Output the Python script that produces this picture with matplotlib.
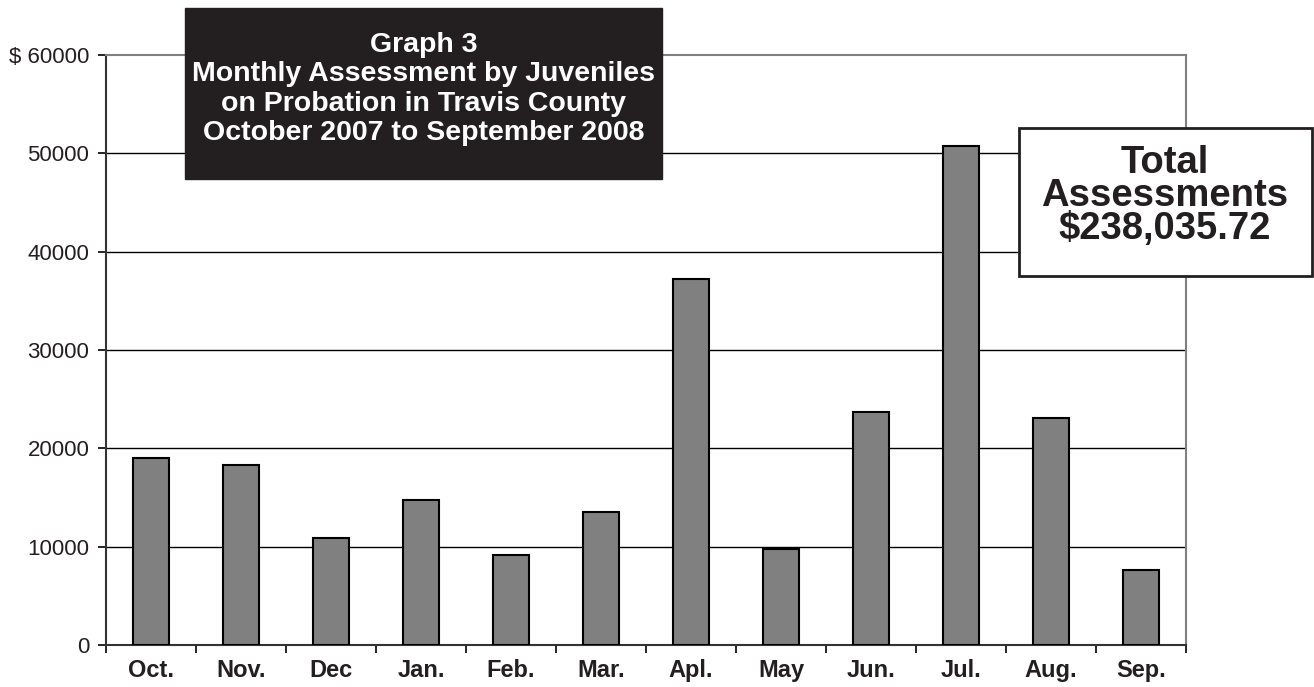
import matplotlib.pyplot as plt
import matplotlib.patches as patches

months = ["Oct.", "Nov.", "Dec", "Jan.", "Feb.", "Mar.", "Apl.", "May", "Jun.", "Jul.", "Aug.", "Sep."]
assessments = [19020, 18300, 10880, 14750, 9150, 13530, 37230, 9770, 23700, 50760, 23090, 7630]
yticks = [0, 10000, 20000, 30000, 40000, 50000, 60000]
ytick_labels = ["0", "10000", "20000", "30000", "40000", "50000", "$ 60000"]

plt.rcParams["font.family"] = ["Liberation Sans", "DejaVu Sans"]

fig = plt.figure(figsize=(13.14, 6.87), dpi=100)
ax = fig.add_axes([106 / 1314, 1 - 645 / 687, 1080 / 1314, 590 / 687])

x = list(range(len(months)))
ax.bar(x, assessments, width=0.4, color="#808080", edgecolor="black", linewidth=1.5, zorder=3)

ax.set_xlim(-0.5, len(months) - 0.5)
ax.set_ylim(0, 60000)
ax.set_yticks(yticks)
ax.set_yticklabels(ytick_labels, fontsize=16, color="#231f20")
ax.set_xticks(x)
ax.set_xticklabels(months, fontsize=17, fontweight="bold", color="#231f20")
ax.set_xticks([i + 0.5 for i in range(-1, len(months))], minor=True)
ax.tick_params(axis="x", which="major", length=0, pad=10)
ax.tick_params(axis="x", which="minor", length=6, direction="out", width=1.2)
ax.tick_params(axis="y", length=6, direction="out", width=1.2, pad=6)

for v in yticks[1:-1]:
    ax.axhline(v, color="black", linewidth=1, zorder=1)

ax.spines["left"].set_color("#333333")
ax.spines["left"].set_linewidth(1.5)
ax.spines["bottom"].set_color("#333333")
ax.spines["bottom"].set_linewidth(1.5)
ax.spines["top"].set_color("#808080")
ax.spines["top"].set_linewidth(1.5)
ax.spines["right"].set_color("#808080")
ax.spines["right"].set_linewidth(1.5)

# title box
fig.patches.append(patches.Rectangle((185 / 1314, 1 - 179 / 687), 477 / 1314, 171 / 687,
                                     transform=fig.transFigure, facecolor="#231f20",
                                     edgecolor="#231f20", zorder=5))
fig.text(423.5 / 1314, 1 - 89 / 687,
         "Graph 3\nMonthly Assessment by Juveniles\non Probation in Travis County\nOctober 2007 to September 2008",
         color="white", fontsize=20.5, fontweight="bold", ha="center", va="center",
         linespacing=1.18, zorder=6)

# total box
fig.patches.append(patches.Rectangle((1019 / 1314, 1 - 276 / 687), 293 / 1314, 148 / 687,
                                     transform=fig.transFigure, facecolor="white",
                                     edgecolor="#231f20", linewidth=2, zorder=5))
fig.text(1165 / 1314, 1 - 196 / 687, "Total\nAssessments\n$238,035.72",
         color="#231f20", fontsize=27.5, fontweight="bold", ha="center", va="center",
         linespacing=0.9, zorder=6)

fig.savefig("out.png", dpi=100)
